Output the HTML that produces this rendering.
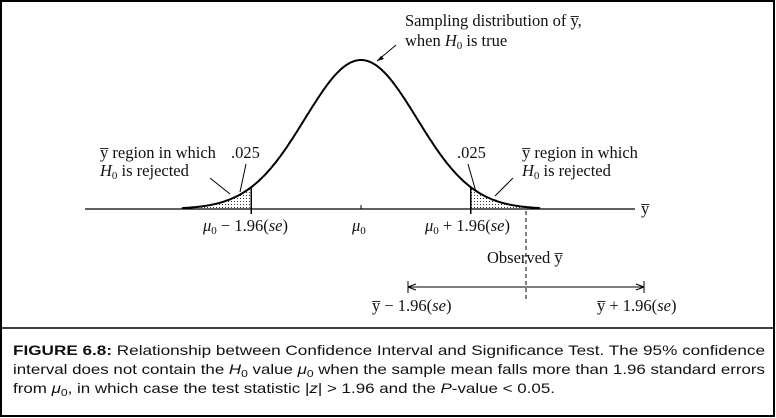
<!DOCTYPE html>
<html><head><meta charset="utf-8"><style>
html,body{margin:0;padding:0;background:#fff;}
svg{display:block;}
.s{font-family:"Liberation Serif",serif;font-size:16.5px;fill:#111;}
.c{font-family:"Liberation Sans",sans-serif;font-size:14px;fill:#111;}
</style></head><body>
<svg id="chart" width="776" height="418" viewBox="0 0 776 418">
<rect x="1" y="1" width="773" height="415" fill="#fff" stroke="#000" stroke-width="2"/>
<defs><pattern id="dots" width="3" height="3" patternUnits="userSpaceOnUse"><rect width="1" height="1" fill="#333"/></pattern></defs>
<g id="plot"></g>
<line x1="85" y1="209" x2="635" y2="209" stroke="#000" stroke-width="1.3"/>
<text class="s" x="641" y="214">y̅</text>
<text class="s" x="203" y="231"><tspan font-style="italic">μ</tspan><tspan font-size="11" dy="3">0</tspan><tspan dy="-3"> − 1.96(</tspan><tspan font-style="italic">se</tspan>)</text>
<text class="s" x="352" y="231"><tspan font-style="italic">μ</tspan><tspan font-size="11" dy="3">0</tspan></text>
<text class="s" x="425" y="231"><tspan font-style="italic">μ</tspan><tspan font-size="11" dy="3">0</tspan><tspan dy="-3"> + 1.96(</tspan><tspan font-style="italic">se</tspan>)</text>
<line x1="361" y1="205" x2="361" y2="209" stroke="#000"/>
<text class="s" x="405" y="26">Sampling distribution of y̅,</text>
<text class="s" x="405" y="46">when <tspan font-style="italic">H</tspan><tspan font-size="11" dy="3">0</tspan><tspan dy="-3"> is true</tspan></text>
<line x1="396" y1="45" x2="377" y2="61" stroke="#000"/>
<path d="M377,61 l7,-2 l-3,-3 z" fill="#000"/>
<text class="s" x="100" y="158">y̅ region in which</text>
<text class="s" x="100" y="176"><tspan font-style="italic">H</tspan><tspan font-size="11" dy="3">0</tspan><tspan dy="-3"> is rejected</tspan></text>
<text class="s" x="231" y="158">.025</text>
<line x1="210" y1="178" x2="230" y2="194" stroke="#000"/>
<line x1="246" y1="164" x2="240" y2="192" stroke="#000"/>
<text class="s" x="457" y="158">.025</text>
<text class="s" x="522" y="158">y̅ region in which</text>
<text class="s" x="522" y="176"><tspan font-style="italic">H</tspan><tspan font-size="11" dy="3">0</tspan><tspan dy="-3"> is rejected</tspan></text>
<line x1="468" y1="164" x2="476" y2="192" stroke="#000"/>
<line x1="513" y1="178" x2="495" y2="196" stroke="#000"/>
<line x1="526" y1="211" x2="526" y2="300" stroke="#000" stroke-dasharray="4,3"/>
<text class="s" x="487" y="263">Observed y̅</text>
<line x1="408" y1="287" x2="644" y2="287" stroke="#000"/>
<line x1="408" y1="281" x2="408" y2="293" stroke="#000"/><line x1="644" y1="281" x2="644" y2="293" stroke="#000"/>
<path d="M408,287 l8,-3 M408,287 l8,3 M644,287 l-8,-3 M644,287 l-8,3" stroke="#000"/>
<text class="s" x="372" y="311">y̅ − 1.96(<tspan font-style="italic">se</tspan>)</text>
<text class="s" x="597" y="311">y̅ + 1.96(<tspan font-style="italic">se</tspan>)</text>
<rect x="1" y="328" width="773" height="88" fill="none" stroke="#000" stroke-width="1.5"/>
<text class="c" x="13" y="355" textLength="752" lengthAdjust="spacingAndGlyphs"><tspan font-weight="bold">FIGURE 6.8:</tspan> Relationship between Confidence Interval and Significance Test. The 95% confidence</text>
<text class="c" x="13" y="374" textLength="752" lengthAdjust="spacingAndGlyphs">interval does not contain the <tspan font-style="italic">H</tspan><tspan font-size="10" dy="3">0</tspan><tspan dy="-3"> value </tspan><tspan font-style="italic">μ</tspan><tspan font-size="10" dy="3">0</tspan><tspan dy="-3"> when the sample mean falls more than 1.96 standard errors</tspan></text>
<text class="c" x="13" y="393" textLength="542" lengthAdjust="spacingAndGlyphs">from <tspan font-style="italic">μ</tspan><tspan font-size="10" dy="3">0</tspan><tspan dy="-3">, in which case the test statistic |</tspan><tspan font-style="italic">z</tspan>| &gt; 1.96 and the <tspan font-style="italic">P</tspan>-value &lt; 0.05.</text>
</svg>
<script>
const zRange = [-3.2, 3.2];
const critZ = [-1.96, 1.96];
const observedZ = [2.99];
const X0 = 361, SIG = 56, BASE = 209, PEAK = 149;
function xs(z){return X0 + z*SIG;}
function ys(z){return BASE - PEAK*Math.exp(-z*z/2);}
const g = document.getElementById('plot');
const NS = 'http://www.w3.org/2000/svg';
let d = '';
for(let z=zRange[0]; z<=zRange[1]+1e-9; z+=0.02){d += (d?'L':'M') + xs(z).toFixed(1) + ',' + ys(z).toFixed(1);}
function tail(a,b){let p='M'+xs(a)+','+BASE;for(let z=a;z<=b+1e-9;z+=0.02)p+='L'+xs(z).toFixed(1)+','+ys(z).toFixed(1);return p+'L'+xs(b)+','+BASE+'Z';}
const lt = document.createElementNS(NS,'path');
lt.setAttribute('d', tail(zRange[0], critZ[0]));
lt.setAttribute('fill','url(#dots)');


g.appendChild(lt);
const rt = document.createElementNS(NS,'path');
rt.setAttribute('d', tail(critZ[1], zRange[1]));
rt.setAttribute('fill','url(#dots)');


g.appendChild(rt);
const curve = document.createElementNS(NS,'path');
curve.setAttribute('d', d);
curve.setAttribute('fill','none');
curve.setAttribute('stroke','#000');
curve.setAttribute('stroke-width','2');


g.appendChild(curve);
critZ.forEach(function(z){
  const l = document.createElementNS(NS,'line');
  l.setAttribute('x1', xs(z)); l.setAttribute('x2', xs(z));
  l.setAttribute('y1', ys(z)); l.setAttribute('y2', BASE+5);
  l.setAttribute('stroke','#000'); l.setAttribute('stroke-width','1.5');
  
  
  g.appendChild(l);
});
</script>
</body></html>
